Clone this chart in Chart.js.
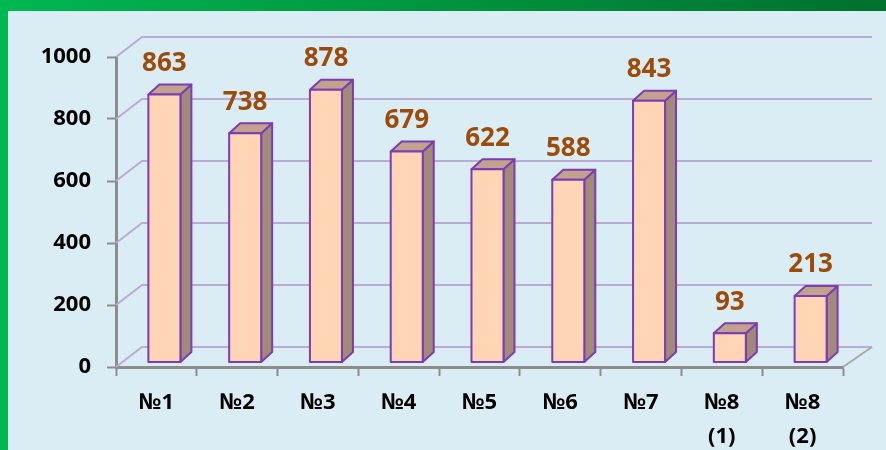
<!DOCTYPE html>
<html>
<head>
<meta charset="utf-8">
<script src="https://cdn.jsdelivr.net/npm/chart.js@4"></script>
<style>
  html, body { margin: 0; padding: 0; background: #dbedf4; }
  canvas { display: block; }
</style>
</head>
<body>
<canvas id="chart" width="886" height="450"></canvas>
<script>
const categories = [["№1"], ["№2"], ["№3"], ["№4"], ["№5"], ["№6"], ["№7"], ["№8", "(1)"], ["№8", "(2)"]];
const values = [863, 738, 878, 679, 622, 588, 843, 93, 213];
const yTicks = [0, 200, 400, 600, 800, 1000];

// depth of the back wall and of the bars
const wallDx = 26, wallDy = -20;
const barDx = 11, barDy = -10;
const barShiftX = 8, barShiftY = -5;
const barWidth = 32;

const chartCanvas = document.getElementById("chart");

const framePlugin = {
    id: "frame",
    beforeDraw(chart) {
        const ctx = chart.ctx;
        ctx.save();
        ctx.fillStyle = "#dbedf4";
        ctx.fillRect(0, 0, chart.width, chart.height);
        const grad = ctx.createLinearGradient(0, 0, chart.width, 0);
        grad.addColorStop(0, "#00b850");
        grad.addColorStop(1, "#00702e");
        ctx.fillStyle = grad;
        ctx.fillRect(0, 0, chart.width, 11);
        ctx.fillStyle = "#00b84f";
        ctx.fillRect(0, 0, 8, chart.height);
        ctx.restore();
    }
};

const wallPlugin = {
    id: "wall",
    beforeDatasetsDraw(chart) {
        const ctx = chart.ctx;
        const x = chart.scales.x;
        const y = chart.scales.y;
        ctx.save();
        ctx.strokeStyle = "#bba9d6";
        ctx.lineWidth = 2;
        yTicks.forEach(v => {
            const py = y.getPixelForValue(v);
            ctx.beginPath();
            ctx.moveTo(x.left, py);
            ctx.lineTo(x.left + wallDx, py + wallDy);
            ctx.lineTo(x.right + wallDx + 3, py + wallDy);
            ctx.stroke();
        });
        // floor right edge
        const py0 = y.getPixelForValue(0);
        ctx.strokeStyle = "#a8a8a8";
        ctx.beginPath();
        ctx.moveTo(x.right, py0);
        ctx.lineTo(x.right + wallDx + 3, py0 + wallDy);
        ctx.stroke();
        ctx.restore();
    }
};

const bar3dPlugin = {
    id: "bar3d",
    afterDatasetsDraw(chart) {
        const ctx = chart.ctx;
        const x = chart.scales.x;
        const y = chart.scales.y;
        const base = y.getPixelForValue(0) + barShiftY;
        ctx.save();
        ctx.lineJoin = "round";
        ctx.lineWidth = 2;
        ctx.strokeStyle = "#7a3db4";
        values.forEach((v, i) => {
            const cx = x.getPixelForValue(i) + barShiftX;
            const l = cx - barWidth / 2;
            const r = cx + barWidth / 2;
            const top = y.getPixelForValue(v) + barShiftY;

            // side
            ctx.fillStyle = "#a3897a";
            ctx.beginPath();
            ctx.moveTo(r, top);
            ctx.lineTo(r + barDx, top + barDy);
            ctx.lineTo(r + barDx, base + barDy);
            ctx.lineTo(r, base);
            ctx.closePath();
            ctx.fill();
            ctx.stroke();

            // top
            ctx.fillStyle = "#c2a28d";
            ctx.beginPath();
            ctx.moveTo(l, top);
            ctx.lineTo(l + barDx, top + barDy);
            ctx.lineTo(r + barDx, top + barDy);
            ctx.lineTo(r, top);
            ctx.closePath();
            ctx.fill();
            ctx.stroke();

            // front
            ctx.fillStyle = "#ffd5b5";
            ctx.fillRect(l, top, barWidth, base - top);
            ctx.strokeRect(l, top, barWidth, base - top);

            // value label
            ctx.fillStyle = "#9c4b0a";
            ctx.font = "bold 26px 'Open Sans'";
            ctx.textAlign = "center";
            ctx.textBaseline = "middle";
            ctx.fillText(String(v), cx, top - 31);
        });
        ctx.restore();
    }
};

const chart = new Chart(chartCanvas, {
    type: "bar",
    data: {
        labels: categories,
        datasets: [{
            data: values,
            backgroundColor: "rgba(0,0,0,0)",
            borderWidth: 0
        }]
    },
    options: {
        responsive: false,
        animation: false,
        layout: {
            padding: { top: 57, right: 43, left: 0, bottom: 0 }
        },
        plugins: {
            legend: { display: false },
            tooltip: { enabled: false }
        },
        scales: {
            x: {
                afterFit(scale) { scale.height = 83; },
                grid: {
                    drawOnChartArea: false,
                    drawTicks: true,
                    tickLength: 9,
                    tickWidth: 2,
                    tickColor: "#8c8c8c",
                    offset: true
                },
                border: { color: "#8c8c8c", width: 3 },
                ticks: {
                    color: "#000",
                    padding: 10,
                    font: { family: "'Open Sans'", size: 22, weight: "bold", lineHeight: 1.55 }
                }
            },
            y: {
                min: 0,
                max: 1000,
                afterFit(scale) { scale.width = 116; },
                afterBuildTicks(scale) {
                    scale.ticks = yTicks.map(v => ({ value: v }));
                },
                grid: {
                    drawOnChartArea: false,
                    drawTicks: true,
                    tickLength: 9,
                    tickWidth: 2,
                    tickColor: "#8c8c8c"
                },
                border: { color: "#8c8c8c", width: 3 },
                ticks: {
                    color: "#000",
                    padding: 16,
                    callback: v => String(v),
                    font: { family: "'Open Sans'", size: 22, weight: "bold" }
                }
            }
        }
    },
    plugins: [framePlugin, wallPlugin, bar3dPlugin]
});
</script>
</body>
</html>
